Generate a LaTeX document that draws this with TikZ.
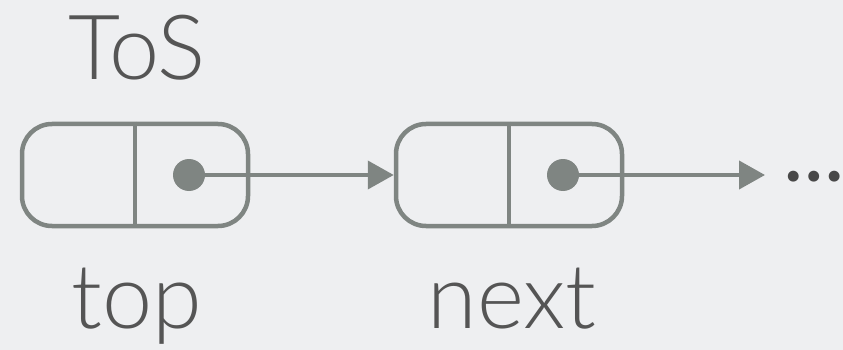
\documentclass[tikz,border=0pt]{standalone}
\usepackage{fontspec}
\setmainfont{Lato}[UprightFont={* Light}]
\usetikzlibrary{positioning,arrows.meta}
\definecolor{linegrey}{HTML}{7F8582}
\definecolor{textgrey}{HTML}{555555}
\definecolor{bggrey}{HTML}{EEEFF1}
\tikzset{
	cell/.style={draw=linegrey, line width=4.5pt, rounded corners=30pt, minimum width=226pt, minimum height=102pt, inner sep=0pt},
	ptr/.style={fill=linegrey, circle, minimum size=32pt, inner sep=0pt},
	caption/.style={text=textgrey, font=\fontsize{90}{90}\selectfont, inner sep=0pt, anchor=base}
}
\begin{document}
\begin{tikzpicture}[x=1pt, y=-1pt, >={Triangle[length=26pt,width=28pt]}, line join=round]
	\fill[bggrey] (0,0) rectangle (843,350);
	\useasboundingbox (0,0) rectangle (843,350);
	\node[cell] (top) at (135,175) {};
	\node[cell] (next) at (509,175) {};
	\foreach \c in {top, next} {
		\draw[linegrey, line width=4pt] (\c.north) -- (\c.south);
		\node[ptr] (\c-ptr) at ([xshift=54pt]\c.center) {};
	}
	\coordinate (more) at (765,175);
	\draw[->, linegrey, line width=4pt] (top-ptr.center) -- (next.west);
	\draw[->, linegrey, line width=4pt] (next-ptr.center) -- (more);
	\node[text=textgrey!85!black, font=\fontsize{78}{78}\selectfont\bfseries, inner sep=0pt, anchor=base] (dots) at (814,181) {…};
	\node[caption] (tos) at (137,80) {ToS};
	\node[caption] (toplabel) at (137,328) {top};
	\node[caption] (nextlabel) at (512,328) {next};
\end{tikzpicture}
\end{document}
